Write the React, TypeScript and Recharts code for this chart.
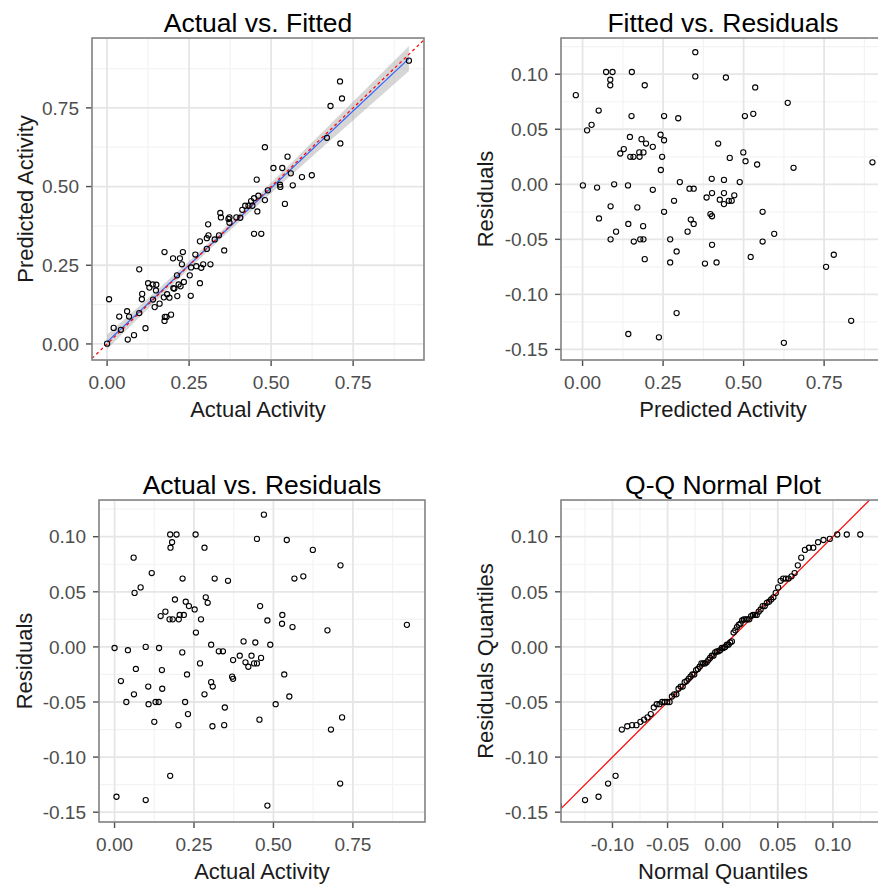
import React from 'react';
import {
  ComposedChart,
  Scatter,
  Line,
  Area,
  XAxis,
  YAxis,
  CartesianGrid,
  ReferenceLine,
} from 'recharts';

// values (same 96 compounds in each)
const fitted = [
  0.073, 0.093, 0.086, 0.086, 0.153, 0.193, 0.350, -0.021, 0.050, 0.152,
  0.253, 0.297, 0.028, 0.014, 0.147, 0.183, 0.197, 0.242, 0.253, 0.218,
  0.128, 0.117, 0.148, 0.158, 0.177, 0.189, 0.176, 0.247, 0.243, 0.001,
  0.045, 0.098, 0.141, 0.218, 0.302, 0.332, 0.345, 0.284, 0.385, 0.402,
  0.401, 0.087, 0.170, 0.253, 0.421, 0.051, 0.142, 0.188, 0.104, 0.087,
  0.159, 0.179, 0.189, 0.193, 0.272, 0.292, 0.272, 0.326, 0.336, 0.345,
  0.397, 0.402, 0.402, 0.380, 0.416, 0.292, 0.142, 0.237, 0.350, 0.445,
  0.536, 0.637, 0.504, 0.530, 0.457, 0.499, 0.506, 0.542, 0.655, 0.900,
  0.439, 0.488, 0.439, 0.426, 0.439, 0.454, 0.463, 0.471, 0.559, 0.595,
  0.559, 0.522, 0.780, 0.756, 0.834, 0.625,
];

const residuals = [
  0.102, 0.102, 0.095, 0.090, 0.102, 0.090, 0.098, 0.081, 0.067, 0.062,
  0.062, 0.060, 0.054, 0.049, 0.043, 0.041, 0.037, 0.045, 0.040, 0.034,
  0.032, 0.028, 0.025, 0.025, 0.025, 0.029, 0.029, 0.025, 0.013, -0.001,
  -0.003, 0.000, -0.001, -0.005, 0.002, -0.004, -0.004, -0.015, -0.012, -0.008,
  0.005, -0.020, -0.021, -0.025, 0.037, -0.031, -0.036, -0.038, -0.043, -0.050,
  -0.052, -0.050, -0.050, -0.068, -0.050, -0.061, -0.071, -0.043, -0.032, -0.036,
  -0.027, -0.029, -0.055, -0.072, -0.071, -0.117, -0.136, -0.139, 0.120, 0.097,
  0.088, 0.074, 0.062, 0.064, 0.024, 0.029, 0.021, 0.018, 0.015, 0.020,
  0.004, 0.002, -0.008, -0.014, -0.018, -0.015, -0.015, -0.010, -0.025, -0.045,
  -0.052, -0.066, -0.064, -0.075, -0.124, -0.144,
];

const actual = [
  0.175, 0.195, 0.181, 0.176, 0.255, 0.283, 0.448, 0.060, 0.117, 0.214,
  0.315, 0.357, 0.082, 0.063, 0.190, 0.224, 0.234, 0.287, 0.293, 0.252,
  0.160, 0.145, 0.173, 0.183, 0.202, 0.218, 0.205, 0.272, 0.256, 0.000,
  0.042, 0.098, 0.140, 0.213, 0.304, 0.328, 0.341, 0.269, 0.373, 0.394,
  0.406, 0.067, 0.149, 0.228, 0.458, 0.020, 0.106, 0.150, 0.061, 0.037,
  0.107, 0.129, 0.139, 0.125, 0.222, 0.231, 0.201, 0.283, 0.304, 0.309,
  0.370, 0.373, 0.347, 0.308, 0.345, 0.175, 0.006, 0.098, 0.470, 0.542,
  0.624, 0.711, 0.566, 0.594, 0.481, 0.528, 0.527, 0.560, 0.670, 0.920,
  0.443, 0.490, 0.431, 0.412, 0.421, 0.439, 0.448, 0.461, 0.534, 0.550,
  0.507, 0.456, 0.716, 0.681, 0.710, 0.481,
];

const unitTicks = [0, 0.25, 0.5, 0.75];
const unitMinor = [0.125, 0.375, 0.625, 0.875];
const residTicks = [-0.15, -0.1, -0.05, 0, 0.05, 0.1];
const residMinor = [-0.125, -0.075, -0.025, 0.025, 0.075, 0.125];
const qqTicks = [-0.1, -0.05, 0, 0.05, 0.1];
const qqMinor = [-0.125, -0.075, -0.025, 0.025, 0.075, 0.125];

const FONT = '"Liberation Sans", Arial, sans-serif';

// inverse normal cdf (Acklam)
const qnorm = (p: number) => {
  const a = [-39.69683028665376, 220.9460984245205, -275.9285104469687, 138.357751867269, -30.66479806614716, 2.506628277459239];
  const b = [-54.47609879822406, 161.5858368580409, -155.6989798598866, 66.80131188771972, -13.28068155288572];
  const c = [-0.007784894002430293, -0.3223964580411365, -2.400758277161838, -2.549732539343734, 4.374664141464968, 2.938163982698783];
  const d = [0.007784695709041462, 0.3224671290700398, 2.445134137142996, 3.754408661907416];
  const lo = 0.02425;
  if (p < lo) {
    const q = Math.sqrt(-2 * Math.log(p));
    return (((((c[0] * q + c[1]) * q + c[2]) * q + c[3]) * q + c[4]) * q + c[5]) /
      ((((d[0] * q + d[1]) * q + d[2]) * q + d[3]) * q + 1);
  }
  if (p > 1 - lo) {
    const q = Math.sqrt(-2 * Math.log(1 - p));
    return -(((((c[0] * q + c[1]) * q + c[2]) * q + c[3]) * q + c[4]) * q + c[5]) /
      ((((d[0] * q + d[1]) * q + d[2]) * q + d[3]) * q + 1);
  }
  const q = p - 0.5;
  const r = q * q;
  return ((((((a[0] * r + a[1]) * r + a[2]) * r + a[3]) * r + a[4]) * r + a[5]) * q) /
    (((((b[0] * r + b[1]) * r + b[2]) * r + b[3]) * r + b[4]) * r + 1);
};

const mean = (v: number[]) => v.reduce((s, x) => s + x, 0) / v.length;

// panel 1 has limits 0..max on both axes, so the one negative prediction is dropped
const p1Data = actual
  .map((a, i) => ({ x: a, y: fitted[i] }))
  .filter((p) => p.y >= 0);

// lm(fitted ~ actual) with 95% band, like geom_smooth(method = "lm")
const n1 = p1Data.length;
const mx = mean(p1Data.map((p) => p.x));
const my = mean(p1Data.map((p) => p.y));
let sxx = 0;
let sxy = 0;
p1Data.forEach((p) => {
  sxx += (p.x - mx) ** 2;
  sxy += (p.x - mx) * (p.y - my);
});
const slope = sxy / sxx;
const intercept = my - slope * mx;
const sse = p1Data.reduce((s, p) => s + (p.y - intercept - slope * p.x) ** 2, 0);
const sRes = Math.sqrt(sse / (n1 - 2));
const xMin = Math.min(...p1Data.map((p) => p.x));
const xMax = Math.max(...p1Data.map((p) => p.x));
const fitBand = Array.from({ length: 80 }, (_, i) => {
  const x = xMin + ((xMax - xMin) * i) / 79;
  const yhat = intercept + slope * x;
  const se = sRes * Math.sqrt(1 / n1 + (x - mx) ** 2 / sxx);
  return { x, y: yhat, band: [yhat - 1.986 * se, yhat + 1.986 * se] };
});

// normal Q-Q of the residuals, quantiles scaled by the residual sd
const n = residuals.length;
const resMean = mean(residuals);
const resSd = Math.sqrt(residuals.reduce((s, r) => s + (r - resMean) ** 2, 0) / (n - 1));
const qqData = [...residuals]
  .sort((p, q) => p - q)
  .map((r, i) => ({ x: resSd * qnorm((i + 0.5) / n), y: r }));

const p2Data = fitted.map((f, i) => ({ x: f, y: residuals[i] }));
const p3Data = actual.map((a, i) => ({ x: a, y: residuals[i] }));

const Ring = (props: any) => (
  <circle cx={props.cx} cy={props.cy} r={2.6} fill="none" stroke="#000" strokeWidth={1.1} />
);

const fmt = (v: number) => v.toFixed(2);
const tickStyle = { fill: '#4D4D4D', fontSize: 19, fontFamily: FONT };

const Y_W = 80;
const X_H = 44;

type PanelProps = {
  left: number;
  top: number;
  width: number;
  height: number;
  xDomain: number[];
  yDomain: number[];
  xTicks: number[];
  yTicks: number[];
  xMinor: number[];
  yMinor: number[];
  children: React.ReactNode;
};

const Panel = ({ left, top, width, height, xDomain, yDomain, xTicks, yTicks, xMinor, yMinor, children }: PanelProps) => (
  <div style={{ position: 'absolute', left: left - Y_W, top }}>
    <ComposedChart width={width + Y_W} height={height + X_H} margin={{ top: 0, right: 0, bottom: 0, left: 0 }}>
      <CartesianGrid verticalValues={xMinor} horizontalValues={yMinor} stroke="#F3F3F3" strokeWidth={1.2} />
      <CartesianGrid stroke="#E6E6E6" strokeWidth={1.8} />
      <XAxis
        type="number"
        dataKey="x"
        domain={xDomain}
        ticks={xTicks}
        allowDataOverflow
        interval={0}
        tickFormatter={fmt}
        height={X_H}
        axisLine={false}
        tickSize={6}
        tickMargin={10}
        tick={tickStyle}
        tickLine={{ stroke: '#4D4D4D', strokeWidth: 1.4 }}
      />
      <YAxis
        type="number"
        dataKey="y"
        domain={yDomain}
        ticks={yTicks}
        allowDataOverflow
        interval={0}
        tickFormatter={fmt}
        width={Y_W}
        axisLine={false}
        tickSize={6}
        tickMargin={7}
        tick={tickStyle}
        tickLine={{ stroke: '#4D4D4D', strokeWidth: 1.4 }}
      />
      {children}
    </ComposedChart>
  </div>
);

const panels = [
  { left: 92, top: 38, width: 332, height: 322 },
  { left: 561, top: 38, width: 324, height: 322 },
  { left: 99, top: 500, width: 326, height: 322 },
  { left: 561, top: 500, width: 324, height: 322 },
];

const titles = ['Actual vs. Fitted', 'Fitted vs. Residuals', 'Actual vs. Residuals', 'Q-Q Normal Plot'];
const xTitles = ['Actual Activity', 'Predicted Activity', 'Actual Activity', 'Normal Quantiles'];
const yTitles = ['Predicted Activity', 'Residuals', 'Residuals', 'Residuals Quantiles'];
const yTitleX = [33, 493, 32, 493];

export default function App() {
  return (
    <div
      style={{
        position: 'absolute',
        left: 0,
        top: 0,
        width: 878,
        height: 888,
        overflow: 'hidden',
        background: '#fff',
        fontFamily: FONT,
      }}
    >
      <Panel {...panels[0]} xDomain={[-0.046, 0.966]} yDomain={[-0.051, 0.972]}
        xTicks={unitTicks} yTicks={unitTicks} xMinor={unitMinor} yMinor={unitMinor}>
        <Area data={fitBand} dataKey="band" stroke="none" fill="#999999" fillOpacity={0.4} isAnimationActive={false} />
        <Scatter data={p1Data} shape={Ring} isAnimationActive={false} />
        <Line data={fitBand} dataKey="y" stroke="#3366FF" strokeWidth={1.2} dot={false} isAnimationActive={false} />
        <ReferenceLine
          segment={[{ x: -0.046, y: -0.046 }, { x: 0.966, y: 0.966 }]}
          stroke="#FF0000"
          strokeWidth={1.2}
          strokeDasharray="3 3"
          ifOverflow="visible"
        />
      </Panel>

      <Panel {...panels[1]} xDomain={[-0.067, 0.939]} yDomain={[-0.1596, 0.1329]}
        xTicks={unitTicks} yTicks={residTicks} xMinor={unitMinor} yMinor={residMinor}>
        <Scatter data={p2Data} shape={Ring} isAnimationActive={false} />
      </Panel>

      <Panel {...panels[2]} xDomain={[-0.049, 0.977]} yDomain={[-0.1589, 0.1333]}
        xTicks={unitTicks} yTicks={residTicks} xMinor={unitMinor} yMinor={residMinor}>
        <Scatter data={p3Data} shape={Ring} isAnimationActive={false} />
      </Panel>

      <Panel {...panels[3]} xDomain={[-0.1467, 0.1473]} yDomain={[-0.1589, 0.1333]}
        xTicks={qqTicks} yTicks={residTicks} xMinor={qqMinor} yMinor={residMinor}>
        <Scatter data={qqData} shape={Ring} isAnimationActive={false} />
        <ReferenceLine
          segment={[{ x: -0.1467, y: -0.1467 }, { x: 0.1333, y: 0.1333 }]}
          stroke="#FF0000"
          strokeWidth={1.2}
          ifOverflow="visible"
        />
      </Panel>

      <svg width={878} height={888} style={{ position: 'absolute', left: 0, top: 0, pointerEvents: 'none' }}>
        {panels.map((p, i) => (
          <g key={i}>
            <rect x={p.left} y={p.top} width={p.width} height={p.height} fill="none" stroke="#858585" strokeWidth={1.6} />
            <text x={p.left + p.width / 2} y={p.top - 6.5} textAnchor="middle" fontSize={26.5} fontFamily={FONT} fill="#000">
              {titles[i]}
            </text>
            <text x={p.left + p.width / 2} y={p.top + p.height + 57} textAnchor="middle" fontSize={22} fontFamily={FONT} fill="#1A1A1A">
              {xTitles[i]}
            </text>
            <text
              x={yTitleX[i]}
              y={p.top + p.height / 2}
              textAnchor="middle"
              fontSize={22}
              fontFamily={FONT}
              fill="#1A1A1A"
              transform={`rotate(-90 ${yTitleX[i]} ${p.top + p.height / 2})`}
            >
              {yTitles[i]}
            </text>
          </g>
        ))}
      </svg>
    </div>
  );
}
